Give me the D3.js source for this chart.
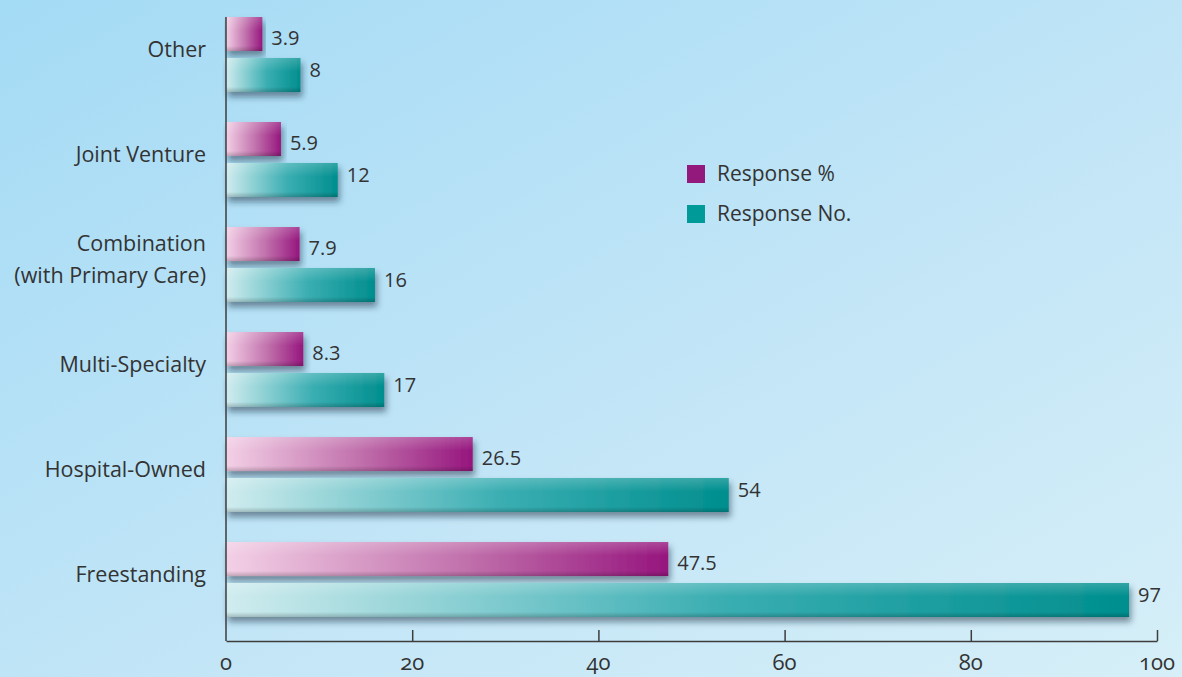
<!DOCTYPE html>
<html>
<head>
<meta charset="utf-8">
<script src="https://cdn.jsdelivr.net/npm/d3@7"></script>
<style>
  body { margin: 0; overflow: hidden; }
  svg { display: block; font-family: "Open Sans", "Noto Sans", sans-serif; }
</style>
</head>
<body>
<svg id="chart" width="1182" height="677"></svg>
<script>
const categories = ["Other", "Joint Venture", "Combination\n(with Primary Care)", "Multi-Specialty", "Hospital-Owned", "Freestanding"]
const responsePct = [3.9, 5.9, 7.9, 8.3, 26.5, 47.5]
const responseNo = [8, 12, 16, 17, 54, 97]
const seriesNames = ["Response %", "Response No."]
const pctLabels = ["3.9", "5.9", "7.9", "8.3", "26.5", "47.5"]
const xTicks = [0, 20, 40, 60, 80, 100]

const W = 1182, H = 677
const svg = d3.select("#chart")
const defs = svg.append("defs")

// background
const bg = defs.append("linearGradient").attr("id", "bg").attr("x1", 0).attr("y1", 0).attr("x2", 1).attr("y2", 1)
bg.append("stop").attr("offset", 0).attr("stop-color", "#a4dbf5")
bg.append("stop").attr("offset", 0.6).attr("stop-color", "#c4e6f7")
bg.append("stop").attr("offset", 1).attr("stop-color", "#d6eff8")
svg.append("rect").attr("width", W).attr("height", H).attr("fill", "url(#bg)")

// bar gradients
const grads = [["pinkGrad", "#f3d0e6", "#c06fab", "#96167e"], ["tealGrad", "#d0ecef", "#3aaeb2", "#008e8e"]]
grads.forEach(g => {
  const lg = defs.append("linearGradient").attr("id", g[0])
  lg.append("stop").attr("offset", 0).attr("stop-color", g[1])
  lg.append("stop").attr("offset", 0.55).attr("stop-color", g[2])
  lg.append("stop").attr("offset", 1).attr("stop-color", g[3])
})
const shade = defs.append("linearGradient").attr("id", "shade").attr("x1", 0).attr("y1", 0).attr("x2", 0).attr("y2", 1)
shade.append("stop").attr("offset", 0).attr("stop-color", "#fff").attr("stop-opacity", 0.2)
shade.append("stop").attr("offset", 0.4).attr("stop-color", "#fff").attr("stop-opacity", 0)
shade.append("stop").attr("offset", 0.85).attr("stop-color", "#000").attr("stop-opacity", 0)
shade.append("stop").attr("offset", 1).attr("stop-color", "#000").attr("stop-opacity", 0.2)

const shadow = defs.append("filter").attr("id", "shadow").attr("x", "-5%").attr("y", "-20%").attr("width", "115%").attr("height", "160%")
shadow.append("feDropShadow").attr("dx", 2).attr("dy", 5).attr("stdDeviation", 3)
  .attr("flood-color", "#0d2a3a").attr("flood-opacity", 0.5)

const margin = { left: 226, right: 25, top: 17 }
const x = d3.scaleLinear().domain([0, 100]).range([margin.left, W - margin.right])
const y = d3.scaleBand().domain(categories).range([margin.top, 617]).paddingInner(0.286).paddingOuter(0)
const ySub = d3.scaleBand().domain(seriesNames).range([0, y.bandwidth()]).paddingInner(0.17)

const rows = categories.map((c, i) => ({ cat: c, vals: [
  { s: seriesNames[0], v: responsePct[i], label: pctLabels[i], grad: "pinkGrad", off: 4 },
  { s: seriesNames[1], v: responseNo[i], label: String(responseNo[i]), grad: "tealGrad", off: -5 }
]}))

const groups = svg.selectAll(".grp").data(rows).join("g").attr("class", "grp")
  .attr("transform", d => `translate(0,${y(d.cat)})`)

const bars = groups.selectAll(".bar").data(d => d.vals).join("g").attr("class", "bar")
bars.append("rect")
  .attr("x", x(0)).attr("y", d => ySub(d.s))
  .attr("width", d => x(d.v) - x(0)).attr("height", ySub.bandwidth())
  .attr("fill", d => `url(#${d.grad})`).attr("filter", "url(#shadow)")
bars.append("rect")
  .attr("x", x(0)).attr("y", d => ySub(d.s))
  .attr("width", d => x(d.v) - x(0)).attr("height", ySub.bandwidth())
  .attr("fill", "url(#shade)")
bars.append("text")
  .attr("x", d => x(d.v) + 9).attr("y", d => ySub(d.s) + ySub.bandwidth() / 2 + d.off)
  .attr("dy", "0.35em").attr("font-size", 20).attr("fill", "#333")
  .text(d => d.label)

// category labels
groups.each(function (d) {
  const lines = d.cat.split("\n")
  const t = d3.select(this).append("text").attr("text-anchor", "end").attr("font-size", 21.5).attr("fill", "#333")
  const mid = y.bandwidth() / 2 - 6
  lines.forEach((l, i) => {
    t.append("tspan").attr("x", 206).attr("y", mid + (i - (lines.length - 1) / 2) * 32 + 1).attr("dy", "0.35em").text(l)
  })
})

// axes
const axisColor = "#3d3d3d"
svg.append("line").attr("x1", x(0)).attr("x2", x(0)).attr("y1", margin.top).attr("y2", 641)
  .attr("stroke", axisColor).attr("stroke-width", 1.5)
const xAxis = svg.append("g").attr("transform", "translate(0,641)")
  .call(d3.axisTop(x).tickValues(xTicks.slice(1)).tickSize(11).tickSizeOuter(0).tickFormat(""))
xAxis.select(".domain").attr("stroke", axisColor).attr("stroke-width", 1.5)
xAxis.selectAll(".tick line").attr("stroke", axisColor).attr("stroke-width", 1.5)
svg.selectAll(".xlab").data(xTicks).join("text").attr("class", "xlab")
  .attr("x", d => x(d)).attr("y", 662).attr("dy", "0.35em").attr("text-anchor", "middle")
  .attr("font-size", 22).attr("fill", "#333").style("font-feature-settings", "'onum' 1")
  .text(d => d)

// legend
const legend = svg.append("g").attr("transform", "translate(687,165)")
const li = legend.selectAll("g").data(seriesNames).join("g").attr("transform", (d, i) => `translate(0,${i * 40})`)
li.append("rect").attr("width", 18).attr("height", 18).attr("fill", (d, i) => i === 0 ? "#93197d" : "#009a98")
li.append("text").attr("x", 30).attr("y", 9).attr("dy", "0.35em").attr("font-size", 21).attr("fill", "#333").text(d => d)
</script>
</body>
</html>
